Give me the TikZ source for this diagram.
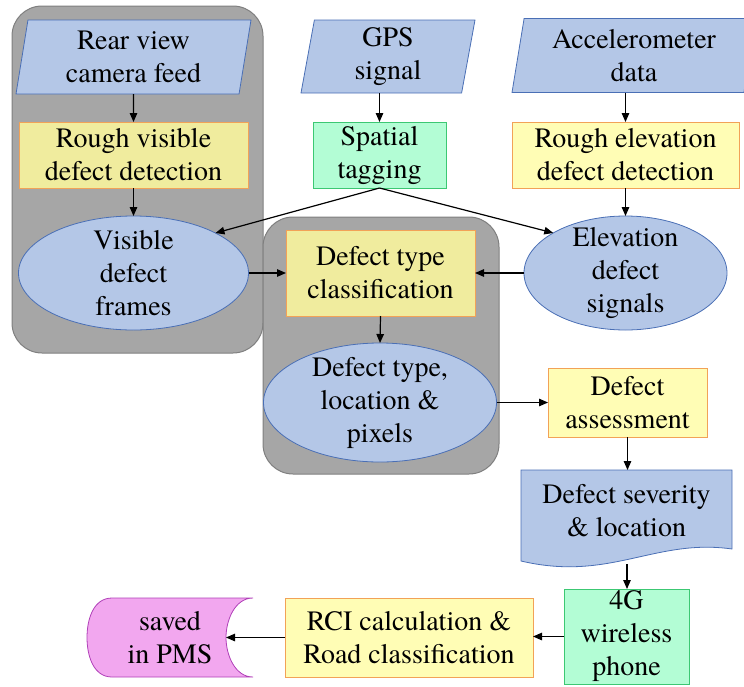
\documentclass[tikz,border=0pt]{standalone}
\usepackage{fontspec}
\setmainfont{TeX Gyre Termes}
\usetikzlibrary{shapes.geometric,arrows.meta,calc}
\definecolor{bfill}{HTML}{B4C7E7}
\definecolor{bline}{HTML}{4A6FB5}
\definecolor{kfill}{HTML}{F0EC9E}
\definecolor{yfill}{HTML}{FFFDB5}
\definecolor{oline}{HTML}{F2A257}
\definecolor{gfill}{HTML}{B3FDD5}
\definecolor{gline}{HTML}{3CC873}
\definecolor{mfill}{HTML}{F2A7EF}
\definecolor{mline}{HTML}{B040B8}
\definecolor{grpfill}{HTML}{A6A6A6}
\definecolor{grpline}{HTML}{7F7F7F}
\tikzset{
  base/.style={font=\rmfamily\fontsize{28}{33}\selectfont, align=center, inner sep=0pt, outer sep=0pt, line width=0.8pt},
  para/.style={base, trapezium, trapezium left angle=77, trapezium right angle=103, trapezium stretches body, fill=bfill, draw=bline},
  ybox/.style={base, rectangle, fill=kfill, draw=oline},
  pbox/.style={base, rectangle, fill=yfill, draw=oline},
  gbox/.style={base, rectangle, fill=gfill, draw=gline},
  ell/.style={base, ellipse, fill=bfill, draw=bline},
  txt/.style={base},
  arr/.style={line width=1.2pt, -{Triangle[length=9pt,width=7.5pt]}},
  grp/.style={fill=grpfill, draw=grpline, line width=1pt, rounded corners=30pt},
}
\begin{document}
\begin{tikzpicture}[x=1pt,y=-1pt]
\useasboundingbox (0,0) rectangle (744,686);
\clip (0,0) rectangle (744,686);
% groups
\draw[grp] (12,6) rectangle (263,353);
\draw[grp] (263,217) rectangle (499,474);
% inputs
\node[para, minimum width=235, minimum height=74] (rv) at (133.5,57) {Rear view\\camera feed};
\node[para, minimum width=174, minimum height=73] (gps) at (388,56.5) {GPS\\signal};
\node[para, minimum width=244, minimum height=74] (acc) at (634,55.5) {Accelerometer\\data};
% boxes
\node[ybox, minimum width=229, minimum height=66] (rvd) at (133.5,155) {Rough visible\\defect detection};
\node[gbox, minimum width=133, minimum height=66] (tag) at (379.5,155) {Spatial\\tagging};
\node[pbox, minimum width=227, minimum height=66] (red) at (625.5,155) {Rough elevation\\defect detection};
\node[ybox, minimum width=189, minimum height=86] (cls) at (380.5,273) {Defect type\\classification};
\node[pbox, minimum width=159, minimum height=69] (ass) at (627.5,402.5) {Defect\\assessment};
\node[gbox, minimum width=125, minimum height=95] (g4) at (626.5,636.5) {4G\\wireless\\phone};
\node[pbox, minimum width=248, minimum height=79] (rci) at (409,637.5) {RCI calculation \&\\Road classification};
% ellipses
\node[ell, minimum width=230, minimum height=114, label={[txt]center:Visible\\defect\\frames}] (vis) at (133.5,273) {};
\node[ell, minimum width=203, minimum height=114, label={[txt]center:Elevation\\defect\\signals}] (elev) at (625.5,273) {};
\node[ell, minimum width=233, minimum height=119, label={[txt]center:Defect type,\\location \&\\pixels}] (dtl) at (380,402.5) {};
% document shape
\path[fill=bfill, draw=bline, line width=0.8pt] (521,470) -- (732,470) -- (732,549) .. controls (655,538) and (610,582) .. (521,561) -- cycle;
\node[txt, minimum width=211, minimum height=82] (sev) at (626.5,511) {Defect severity\\\& location};
\coordinate (sevb) at (627,564);
% stored data shape
\path[fill=mfill, draw=mline, line width=0.8pt] (253,598) -- (112,598) .. controls (93,598) and (87,620) .. (87,637.5) .. controls (87,655) and (93,677) .. (112,677) -- (253,677) .. controls (235,677) and (226,655) .. (226,637.5) .. controls (226,620) and (235,598) .. (253,598) -- cycle;
\node[txt, minimum width=112, minimum height=79] (pms) at (170,637.5) {saved\\in PMS};
% connectors
\draw[arr] (rv.south) -- (rvd.north);
\draw[arr] (rvd.south) -- (vis.north);
\draw[arr] (gps.south -| tag.north) -- (tag.north);
\draw[arr] (acc.south -| red.north) -- (red.north);
\draw[arr] (red.south) -- (elev.north);
\draw[arr] (tag.south) -- (vis.26);
\draw[arr] (tag.south) -- (elev.151);
\draw[arr] (vis.east) -- (cls.west);
\draw[arr] (elev.west) -- (cls.east);
\draw[arr] (cls.south) -- (dtl.north);
\draw[arr] (dtl.east) -- (dtl.east -| ass.west);
\draw[arr] (ass.south) -- (ass.south |- sev.north);
\draw[arr] (sevb) -- (sevb |- g4.north);
\draw[arr] (g4.west) -- (g4.west -| rci.east);
\draw[arr] (rci.west) -- (rci.west -| pms.east);
\end{tikzpicture}
\end{document}
